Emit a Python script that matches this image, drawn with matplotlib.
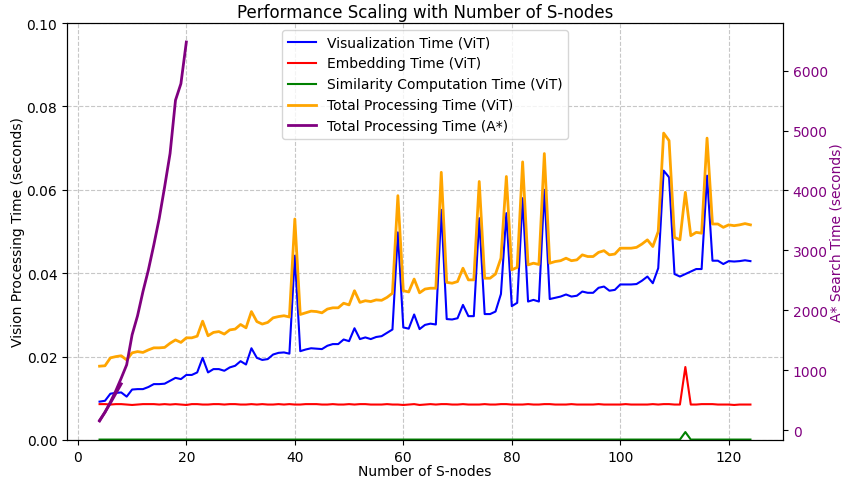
import matplotlib
matplotlib.use('Agg')
import matplotlib.pyplot as plt

# number of S-nodes used in each run
s_nodes = list(range(4, 125))

vit_visualization = [
    0.0092, 0.0094, 0.0111, 0.0113, 0.0114, 0.0104, 0.0121, 0.0122, 0.0122, 0.0127,
    0.0134, 0.0134, 0.0135, 0.0142, 0.0149, 0.0146, 0.0156, 0.0156, 0.0162, 0.0197,
    0.0162, 0.0170, 0.0170, 0.0166, 0.0174, 0.0178, 0.0189, 0.0181, 0.0220, 0.0197,
    0.0192, 0.0194, 0.0205, 0.0209, 0.0210, 0.0207, 0.0442, 0.0213, 0.0217, 0.0220,
    0.0219, 0.0218, 0.0226, 0.0230, 0.0230, 0.0241, 0.0237, 0.0268, 0.0242, 0.0246,
    0.0242, 0.0247, 0.0249, 0.0257, 0.0265, 0.0498, 0.0270, 0.0267, 0.0301, 0.0266,
    0.0276, 0.0279, 0.0277, 0.0552, 0.0290, 0.0289, 0.0292, 0.0324, 0.0297, 0.0297,
    0.0532, 0.0302, 0.0302, 0.0308, 0.0350, 0.0544, 0.0321, 0.0329, 0.0580, 0.0332,
    0.0336, 0.0332, 0.0600, 0.0338, 0.0341, 0.0344, 0.0349, 0.0344, 0.0346, 0.0356,
    0.0353, 0.0353, 0.0365, 0.0368, 0.0358, 0.0360, 0.0373, 0.0373, 0.0373, 0.0374,
    0.0382, 0.0392, 0.0376, 0.0412, 0.0646, 0.0630, 0.0398, 0.0392, 0.0398, 0.0404,
    0.0410, 0.0410, 0.0634, 0.0430, 0.0430, 0.0422, 0.0429, 0.0428, 0.0429, 0.0431,
    0.0429,
]

vit_embedding = [
    0.0086, 0.0086, 0.0085, 0.0086, 0.0086, 0.0085, 0.0084, 0.0085, 0.0086, 0.0086,
    0.0086, 0.0085, 0.0086, 0.0085, 0.0086, 0.0085, 0.0084, 0.0086, 0.0086, 0.0085,
    0.0085, 0.0086, 0.0086, 0.0085, 0.0086, 0.0086, 0.0085, 0.0085, 0.0086, 0.0085,
    0.0086, 0.0085, 0.0085, 0.0086, 0.0085, 0.0086, 0.0085, 0.0085, 0.0086, 0.0086,
    0.0086, 0.0085, 0.0085, 0.0086, 0.0085, 0.0085, 0.0086, 0.0085, 0.0086, 0.0086,
    0.0085, 0.0085, 0.0085, 0.0086, 0.0085, 0.0085, 0.0084, 0.0085, 0.0086, 0.0084,
    0.0085, 0.0086, 0.0085, 0.0086, 0.0086, 0.0085, 0.0085, 0.0086, 0.0085, 0.0085,
    0.0085, 0.0086, 0.0085, 0.0085, 0.0086, 0.0086, 0.0085, 0.0085, 0.0085, 0.0086,
    0.0085, 0.0085, 0.0086, 0.0086, 0.0085, 0.0085, 0.0085, 0.0086, 0.0085, 0.0085,
    0.0085, 0.0085, 0.0086, 0.0085, 0.0085, 0.0085, 0.0085, 0.0086, 0.0085, 0.0085,
    0.0085, 0.0085, 0.0086, 0.0085, 0.0086, 0.0086, 0.0085, 0.0085, 0.0175, 0.0085,
    0.0085, 0.0086, 0.0086, 0.0086, 0.0085, 0.0085, 0.0085, 0.0084, 0.0085, 0.0085,
    0.0085,
]

vit_similarity = [0.0001] * 108 + [0.0019] + [0.0001] * 12

vit_total = [
    0.0177, 0.0178, 0.0197, 0.0200, 0.0202, 0.0192, 0.0209, 0.0212, 0.0210, 0.0216,
    0.0221, 0.0221, 0.0222, 0.0232, 0.0240, 0.0234, 0.0245, 0.0245, 0.0249, 0.0285,
    0.0250, 0.0258, 0.0260, 0.0254, 0.0264, 0.0266, 0.0277, 0.0269, 0.0308, 0.0284,
    0.0278, 0.0282, 0.0293, 0.0296, 0.0298, 0.0295, 0.0530, 0.0301, 0.0305, 0.0309,
    0.0308, 0.0305, 0.0314, 0.0317, 0.0317, 0.0328, 0.0324, 0.0358, 0.0330, 0.0334,
    0.0332, 0.0336, 0.0335, 0.0342, 0.0352, 0.0586, 0.0358, 0.0355, 0.0386, 0.0353,
    0.0362, 0.0364, 0.0364, 0.0642, 0.0378, 0.0376, 0.0380, 0.0412, 0.0384, 0.0384,
    0.0620, 0.0388, 0.0388, 0.0398, 0.0436, 0.0632, 0.0408, 0.0414, 0.0667, 0.0420,
    0.0424, 0.0421, 0.0687, 0.0424, 0.0428, 0.0430, 0.0436, 0.0430, 0.0432, 0.0444,
    0.0440, 0.0440, 0.0450, 0.0454, 0.0444, 0.0446, 0.0460, 0.0460, 0.0460, 0.0462,
    0.0470, 0.0480, 0.0464, 0.0500, 0.0736, 0.0718, 0.0486, 0.0480, 0.0594, 0.0490,
    0.0498, 0.0496, 0.0724, 0.0518, 0.0518, 0.0510, 0.0516, 0.0514, 0.0516, 0.0519,
    0.0516,
]

# A* only finished for small graphs
astar_nodes = list(range(4, 21))
astar_total = [161, 294, 467, 656, 867, 1089, 1589, 1906, 2311, 2672,
               3089, 3533, 4061, 4617, 5506, 5783, 6478]

# earlier partial A* run
astar_nodes_first = [4, 5, 6, 7, 8]
astar_total_first = [150, 300, 450, 610, 770]

fig, ax1 = plt.subplots(figsize=(8.44, 4.81), dpi=100)
fig.subplots_adjust(left=0.0794, right=0.9277, bottom=0.0832, top=0.950)

ax1.plot(s_nodes, vit_visualization, color='blue', linewidth=1.5, label='Visualization Time (ViT)')
ax1.plot(s_nodes, vit_embedding, color='red', linewidth=1.5, label='Embedding Time (ViT)')
ax1.plot(s_nodes, vit_similarity, color='green', linewidth=1.5, label='Similarity Computation Time (ViT)')
ax1.plot(s_nodes, vit_total, color='orange', linewidth=2, label='Total Processing Time (ViT)')

ax1.set_xlabel('Number of S-nodes', labelpad=0)
ax1.set_ylabel('Vision Processing Time (seconds)', labelpad=1)
ax1.set_ylim(0, 0.1)
ax1.grid(True, linestyle='--', alpha=0.7)

ax2 = ax1.twinx()
ax2.plot(astar_nodes_first, astar_total_first, color='purple', linewidth=2)
ax2.plot(astar_nodes, astar_total, color='purple', linewidth=2, label='Total Processing Time (A*)')
ax2.set_ylabel('A* Search Time (seconds)', color='purple', labelpad=1)
ax2.tick_params(axis='y', labelcolor='purple')

h1, l1 = ax1.get_legend_handles_labels()
h2, l2 = ax2.get_legend_handles_labels()
ax1.legend(h1 + h2, l1 + l2, loc='upper center')

plt.title('Performance Scaling with Number of S-nodes', pad=4)

plt.savefig('out.png')
plt.close()
